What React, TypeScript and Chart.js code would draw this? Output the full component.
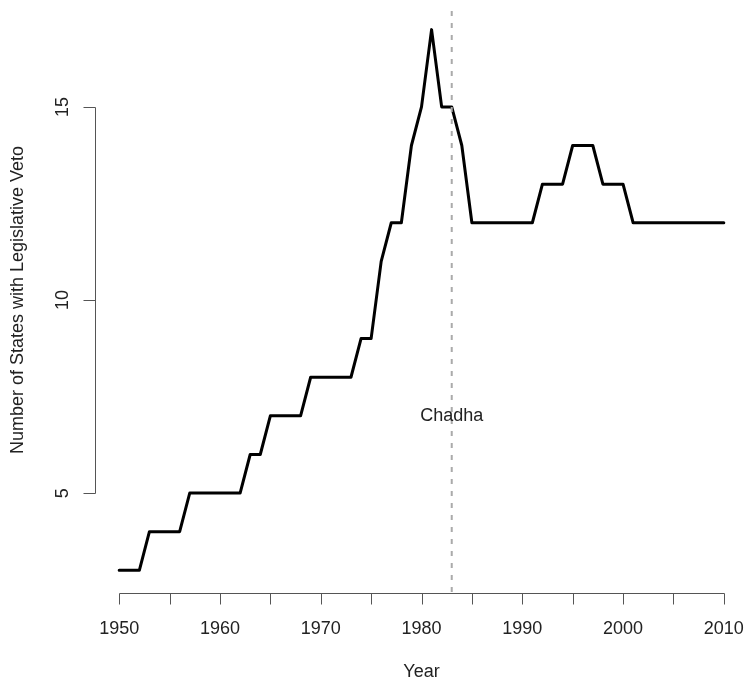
import React, { useEffect, useRef } from "react";
import { Chart, registerables } from "chart.js";

Chart.register(...registerables);

const years: number[] = [
  1950, 1951, 1952, 1953, 1954, 1955, 1956, 1957, 1958, 1959,
  1960, 1961, 1962, 1963, 1964, 1965, 1966, 1967, 1968, 1969,
  1970, 1971, 1972, 1973, 1974, 1975, 1976, 1977, 1978, 1979,
  1980, 1981, 1982, 1983, 1984, 1985, 1986, 1987, 1988, 1989,
  1990, 1991, 1992, 1993, 1994, 1995, 1996, 1997, 1998, 1999,
  2000, 2001, 2002, 2003, 2004, 2005, 2006, 2007, 2008, 2009,
  2010,
];
const statesWithVeto: number[] = [
  3, 3, 3, 4, 4, 4, 4, 5, 5, 5,
  5, 5, 5, 6, 6, 7, 7, 7, 7, 8,
  8, 8, 8, 8, 9, 9, 11, 12, 12, 14,
  15, 17, 15, 15, 14, 12, 12, 12, 12, 12,
  12, 12, 13, 13, 13, 14, 14, 14, 13, 13,
  13, 12, 12, 12, 12, 12, 12, 12, 12, 12,
  12,
];
const xTicks: number[] = [1950, 1955, 1960, 1965, 1970, 1975, 1980, 1985, 1990, 1995, 2000, 2005, 2010];
const xTickLabels: number[] = [1950, 1960, 1970, 1980, 1990, 2000, 2010];
const yTicks: number[] = [5, 10, 15];
const chadhaYear = 1983;
const chadhaLabelY = 7;
const xTitle = "Year";
const yTitle = "Number of States with Legislative Veto";
const annotationText = "Chadha";

const X_MIN = 1947.6;
const X_MAX = 2012.4;
const Y_MIN = 2.44;
const Y_MAX = 17.56;

const FONT = "18px 'Liberation Sans', Arial, sans-serif";

const axesPlugin = {
  id: "rAxes",
  afterDraw(chart: any) {
    const ctx = chart.ctx as CanvasRenderingContext2D;
    const xs = chart.scales.x;
    const ys = chart.scales.y;
    const area = chart.chartArea;
    ctx.save();
    ctx.strokeStyle = "#555";
    ctx.lineWidth = 1;
    // x axis
    const axisY = Math.round(area.bottom) + 1.5;
    ctx.beginPath();
    ctx.moveTo(Math.round(xs.getPixelForValue(xTicks[0])) + 0.5, axisY);
    ctx.lineTo(Math.round(xs.getPixelForValue(xTicks[xTicks.length - 1])) + 0.5, axisY);
    for (const t of xTicks) {
      const px = Math.round(xs.getPixelForValue(t)) + 0.5;
      ctx.moveTo(px, axisY);
      ctx.lineTo(px, axisY + 11);
    }
    ctx.stroke();
    // y axis
    const axisX = Math.round(area.left) + 0.5;
    ctx.beginPath();
    ctx.moveTo(axisX, Math.round(ys.getPixelForValue(yTicks[0])) + 0.5);
    ctx.lineTo(axisX, Math.round(ys.getPixelForValue(yTicks[yTicks.length - 1])) + 0.5);
    for (const t of yTicks) {
      const py = Math.round(ys.getPixelForValue(t)) + 0.5;
      ctx.moveTo(axisX, py);
      ctx.lineTo(axisX - 12, py);
    }
    ctx.stroke();

    ctx.fillStyle = "#222";
    ctx.font = FONT;
    ctx.textAlign = "center";
    ctx.textBaseline = "middle";
    for (const t of xTickLabels) {
      ctx.fillText(String(t), xs.getPixelForValue(t), 629);
    }
    for (const t of yTicks) {
      ctx.save();
      ctx.translate(63, ys.getPixelForValue(t));
      ctx.rotate(-Math.PI / 2);
      ctx.fillText(String(t), 0, 0);
      ctx.restore();
    }
    // titles
    const cx = (xs.getPixelForValue(X_MIN) + xs.getPixelForValue(X_MAX)) / 2;
    ctx.fillText(xTitle, cx, 672);
    ctx.save();
    ctx.translate(18, (area.top + area.bottom) / 2);
    ctx.rotate(-Math.PI / 2);
    ctx.fillText(yTitle, 0, 0);
    ctx.restore();
    // annotation
    ctx.fillText(annotationText, xs.getPixelForValue(chadhaYear), ys.getPixelForValue(chadhaLabelY));
    ctx.restore();
  },
};

export default function App() {
  const ref = useRef<HTMLCanvasElement | null>(null);
  useEffect(() => {
    if (!ref.current) return;
    const data = years.map((y, i) => ({ x: y, y: statesWithVeto[i] }));
    const chart = new Chart(ref.current, {
      type: "line",
      data: {
        datasets: [
          {
            data: [
              { x: chadhaYear, y: Y_MIN },
              { x: chadhaYear, y: Y_MAX },
            ],
            borderColor: "#aaaaaa",
            borderWidth: 2,
            borderDash: [5, 7],
            pointRadius: 0,
            tension: 0,
          },
          {
            data,
            borderColor: "#000000",
            borderWidth: 3,
            pointRadius: 0,
            tension: 0,
            borderJoinStyle: "round",
            borderCapStyle: "round",
          },
        ],
      },
      options: {
        animation: false,
        responsive: false,
        maintainAspectRatio: false,
        layout: { padding: { left: 95, right: 0, top: 8, bottom: 88 } },
        plugins: { legend: { display: false }, tooltip: { enabled: false } },
        scales: {
          x: { type: "linear", min: X_MIN, max: X_MAX, display: false },
          y: { type: "linear", min: Y_MIN, max: Y_MAX, display: false },
        },
      },
      plugins: [axesPlugin],
    });
    return () => chart.destroy();
  }, []);
  return (
    <div style={{ position: "absolute", left: 0, top: 0, width: 745, height: 680, background: "#fff" }}>
      <canvas ref={ref} width={748} height={680} style={{ width: 748, height: 680, display: "block" }} />
    </div>
  );
}
